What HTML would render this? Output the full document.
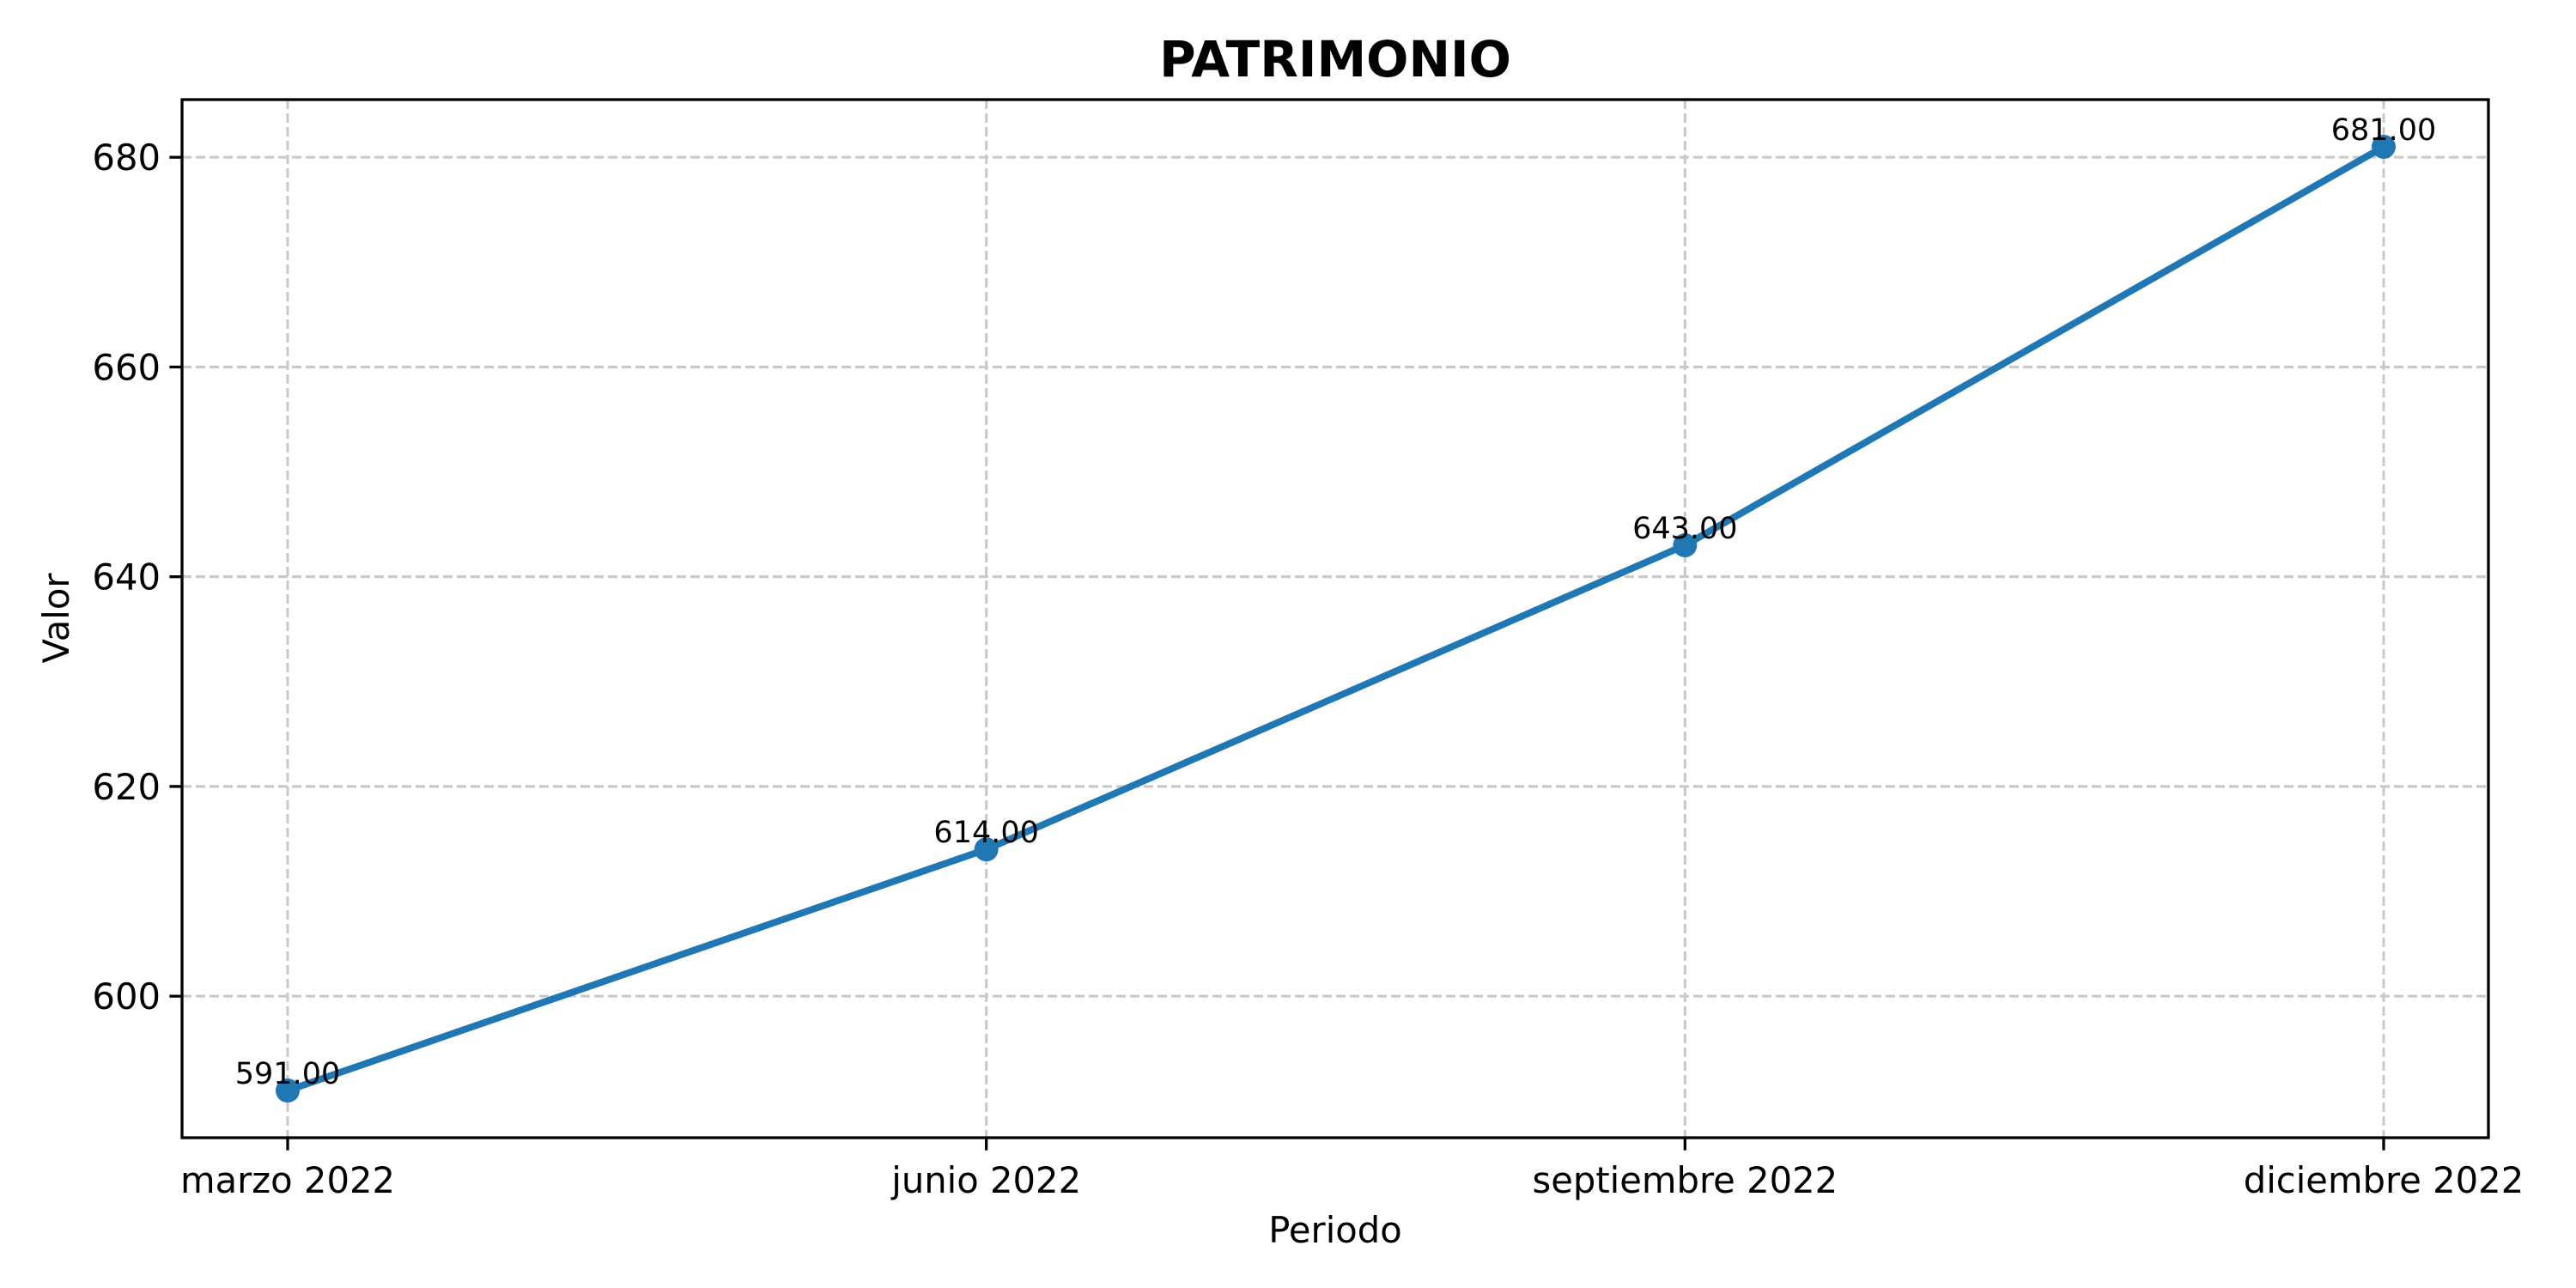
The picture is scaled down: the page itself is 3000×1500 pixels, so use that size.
<!DOCTYPE html>
<html><head><meta charset="utf-8"><style>html,body{margin:0;padding:0;background:#fff}svg{display:block}text{font-family:"DejaVu Sans","Liberation Sans",sans-serif}</style></head>
<body>
<svg id="chart" width="3000" height="1500" viewBox="0 0 3000 1500" xmlns="http://www.w3.org/2000/svg">
<rect width="3000" height="1500" fill="#fff"/>
<text x="1555" y="89" font-size="58" font-weight="bold" text-anchor="middle">PATRIMONIO</text>
<g id="grid"></g>
<g id="axes"></g>
<g id="series"></g>
<rect x="212" y="116" width="2686" height="1209" fill="none" stroke="#000" stroke-width="3.3"/>
<text x="1555" y="1447" font-size="41.7" text-anchor="middle">Periodo</text>
<text transform="translate(80,720) rotate(-90)" font-size="41.7" text-anchor="middle">Valor</text>
</svg>
<script>
const categories = ["marzo 2022","junio 2022","septiembre 2022","diciembre 2022"];
const values = [591, 614, 643, 681];
const yTicks = [600, 620, 640, 660, 680];
const yMin = 586.5, yMax = 685.5;
const L=212, R=2898, T=116, B=1325;
const xPos = i => 335 + i*(2776-335)/(categories.length-1);
const yPos = v => B - (v - yMin)/(yMax - yMin)*(B - T);
const NS="http://www.w3.org/2000/svg";
function mk(tag, attrs, parent){const e=document.createElementNS(NS,tag);for(const k in attrs)e.setAttribute(k,attrs[k]);parent.appendChild(e);return e;}
const grid=document.getElementById('grid'), axes=document.getElementById('axes'), series=document.getElementById('series');
yTicks.forEach(v=>{
  const y=yPos(v);
  const g=mk('line',{x1:L,x2:R,y1:y,y2:y,stroke:'#c8c8c8','stroke-width':3,'stroke-dasharray':'11 5'},grid);
  
  
  const t=mk('line',{x1:L-14.6,x2:L,y1:y,y2:y,stroke:'#000','stroke-width':3.3},axes);
  
  
  const lb=mk('text',{x:L-25,y:y+15,'font-size':41.7,'text-anchor':'end'},axes);
  lb.textContent=v;
  
  
});
categories.forEach((c,i)=>{
  const x=xPos(i);
  const g=mk('line',{x1:x,x2:x,y1:T,y2:B,stroke:'#c8c8c8','stroke-width':3,'stroke-dasharray':'11 5'},grid);
  
  
  const t=mk('line',{x1:x,x2:x,y1:B,y2:B+14.6,stroke:'#000','stroke-width':3.3},axes);
  
  
  const lb=mk('text',{x:x,y:1389,'font-size':41.7,'text-anchor':'middle'},axes);
  lb.textContent=c;
  
  
});
const pts=values.map((v,i)=>xPos(i)+','+yPos(v)).join(' ');
const line=mk('polyline',{points:pts,fill:'none',stroke:'#1f77b4','stroke-width':8,'stroke-linejoin':'round','stroke-linecap':'square'},series);


values.forEach((v,i)=>{
  const p=mk('circle',{cx:xPos(i),cy:yPos(v),r:14,fill:'#1f77b4'},series);
  
  
  const lb=mk('text',{x:xPos(i),y:yPos(v)-8,'font-size':35,'text-anchor':'middle'},series);
  lb.textContent=v.toFixed(2);
  
  
});
</script>
</body></html>
